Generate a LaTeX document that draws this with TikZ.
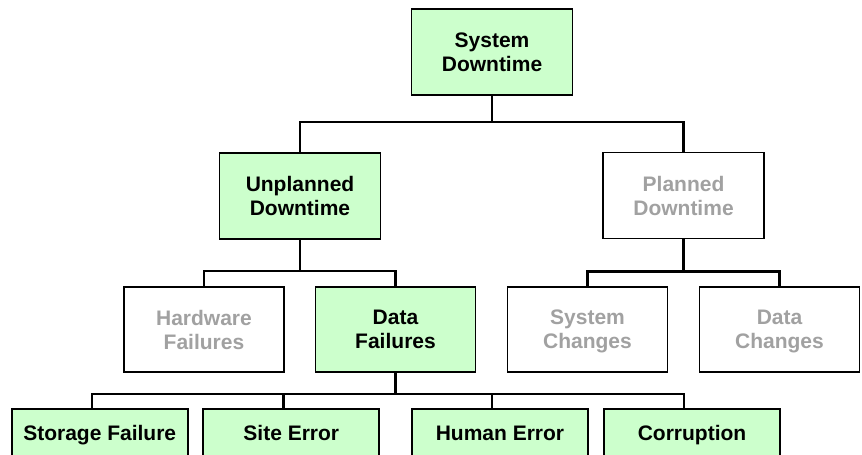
\documentclass[tikz,border=0pt]{standalone}
\usepackage{fontspec}
\setmainfont{Liberation Sans}
\usetikzlibrary{positioning}

\begin{document}
\begin{tikzpicture}[
  x=1pt, y=-1pt,
  every node/.style={draw=black, line width=1.7pt, inner sep=0pt,
    align=center, font=\fontsize{21}{24}\selectfont\bfseries},
  active/.style={fill=\colorisG, text=black},
  idle/.style={fill=white, text=\colorisT},
  level one/.style={minimum width=161pt, minimum height=86pt, text depth=-6pt},
  level two/.style={minimum width=160pt, minimum height=85pt, text depth=-6pt},
  level three/.style={minimum width=176pt, minimum height=48pt, text depth=-3pt},
  link/.style={line width=2.4pt, black},
]
%-------------------------------------------------------------
\newcommand{\colorisG}{green!20!white}
\newcommand{\colorisT}{black!37}

\useasboundingbox (0,0) rectangle (862,455);
\clip (0,0) rectangle (862,455);

\node[active, level one] (SD) at (492,52) {System\\Downtime}; % root
%============================================================
\node[active, level one] (UD) at (300,196) {Unplanned\\Downtime};
\node[idle, level one]   (PD) at (683.5,195.5) {Planned\\Downtime};
%============================================================
\node[idle, level two]   (HF) at (204,329.5) {Hardware\\Failures};
\node[active, level two] (DF) at (395.5,329.5) {Data\\Failures};
\node[idle, level two]   (SC) at (587.5,329.5) {System\\Changes};
\node[idle, level two]   (DC) at (779.5,329.5) {Data\\Changes};
%============================================================
\node[active, level three] (SF) at (99.7,433) {Storage Failure};
\node[active, level three] (SE) at (291.3,433) {Site Error};
\node[active, level three] (HE) at (500,433) {Human Error};
\node[active, level three] (CO) at (692,433) {Corruption};
%============================================================

\draw[link] (SD.south) -- ++(0,26) -| (UD.north);
\draw[link] (SD.south) -- ++(0,26) -| (PD.north);

\draw[link] (UD.south) -- ++(0,31) -| (HF.north);
\draw[link] (UD.south) -- ++(0,31) -| (DF.north);
\draw[link] (PD.south) -- ++(0,32) -| (SC.north);
\draw[link] (PD.south) -- ++(0,32) -| (DC.north);

\draw[link] (DF.south) -- ++(0,21) -| ([xshift=-8pt]SF.north);
\draw[link] (DF.south) -- ++(0,21) -| ([xshift=-8pt]SE.north);
\draw[link] (DF.south) -- ++(0,21) -| ([xshift=-8pt]HE.north);
\draw[link] (DF.south) -- ++(0,21) -| ([xshift=-8pt]CO.north);

\end{tikzpicture}
\end{document}
